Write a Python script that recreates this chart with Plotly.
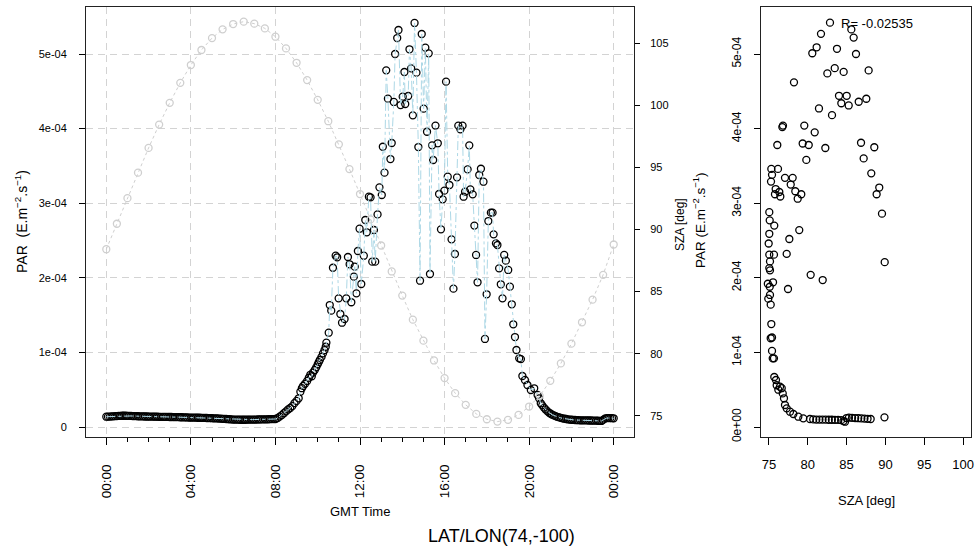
import plotly.graph_objects as go

# Positions below are given in window pixels; the page margin is removed
# (see post_script at the end) so figure pixels equal window pixels.
OFF = 0
W, H = 977, 550

# ---------------- data ----------------
# PAR time series (GMT hours, PAR in units of 1e-4 E.m-2.s-1)
PAR_HOURS = [
    0.00, 0.08, 0.17, 0.25, 0.33, 0.42, 0.50, 0.58, 0.67, 0.75, 0.83, 0.92,
    1.00, 1.08, 1.17, 1.25, 1.33, 1.42, 1.50, 1.58, 1.67, 1.75, 1.83, 1.92,
    2.00, 2.08, 2.17, 2.25, 2.33, 2.42, 2.50, 2.58, 2.67, 2.75, 2.83, 2.92,
    3.00, 3.08, 3.17, 3.25, 3.33, 3.42, 3.50, 3.58, 3.67, 3.75, 3.83, 3.92,
    4.00, 4.08, 4.17, 4.25, 4.33, 4.42, 4.50, 4.58, 4.67, 4.75, 4.83, 4.92,
    5.00, 5.08, 5.17, 5.25, 5.33, 5.42, 5.50, 5.58, 5.67, 5.75, 5.83, 5.92,
    6.00, 6.08, 6.17, 6.25, 6.33, 6.42, 6.50, 6.58, 6.67, 6.75, 6.83, 6.92,
    7.00, 7.08, 7.17, 7.25, 7.33, 7.42, 7.50, 7.58, 7.67, 7.75, 7.83, 7.92,
    8.00, 8.10, 8.20, 8.30, 8.40, 8.50, 8.60, 8.70, 8.80, 8.90, 9.00, 9.10,
    9.18, 9.25, 9.31, 9.40, 9.50, 9.58, 9.65, 9.72, 9.78, 9.86, 9.93, 10.00,
    10.05, 10.10, 10.18, 10.25, 10.32, 10.38, 10.41, 10.52, 10.57, 10.64, 10.72, 10.85,
    10.92, 10.99, 11.07, 11.15, 11.27, 11.35, 11.43, 11.51, 11.59, 11.71, 11.75, 11.83,
    11.90, 11.98, 12.06, 12.18, 12.25, 12.32, 12.42, 12.50, 12.58, 12.66, 12.72, 12.83,
    12.92, 13.03, 13.08, 13.16, 13.24, 13.32, 13.44, 13.50, 13.60, 13.66, 13.76, 13.82,
    13.92, 14.02, 14.10, 14.14, 14.28, 14.34, 14.42, 14.50, 14.58, 14.67, 14.76, 14.84,
    14.92, 15.01, 15.09, 15.17, 15.25, 15.31, 15.41, 15.46, 15.57, 15.68, 15.74, 15.83,
    15.91, 15.99, 16.07, 16.15, 16.23, 16.33, 16.42, 16.49, 16.59, 16.65, 16.75, 16.85,
    16.90, 16.97, 17.09, 17.17, 17.22, 17.33, 17.41, 17.49, 17.56, 17.64, 17.72, 17.84,
    17.91, 17.99, 18.07, 18.19, 18.27, 18.32, 18.43, 18.50, 18.58, 18.66, 18.74, 18.82,
    18.90, 19.01, 19.09, 19.18, 19.25, 19.33, 19.40, 19.53, 19.61, 19.68, 19.80, 19.92,
    20.08, 20.24, 20.40, 20.47, 20.55, 20.62, 20.70, 20.78, 20.87, 20.95, 21.02, 21.08,
    21.17, 21.25, 21.33, 21.42, 21.50, 21.58, 21.67, 21.75, 21.83, 21.92, 22.00, 22.08,
    22.17, 22.25, 22.33, 22.42, 22.50, 22.58, 22.67, 22.75, 22.83, 22.92, 23.00, 23.08,
    23.17, 23.25, 23.33, 23.42, 23.50, 23.58, 23.67, 23.75, 23.83, 23.92, 24.00,
]
PAR_E4 = [
    0.138, 0.139, 0.140, 0.142, 0.143, 0.145, 0.147, 0.149, 0.150, 0.151, 0.151, 0.151,
    0.150, 0.149, 0.148, 0.147, 0.146, 0.145, 0.144, 0.143, 0.142, 0.142, 0.141, 0.141,
    0.140, 0.140, 0.139, 0.139, 0.138, 0.138, 0.137, 0.137, 0.136, 0.136, 0.135, 0.135,
    0.134, 0.134, 0.133, 0.133, 0.132, 0.132, 0.131, 0.131, 0.130, 0.129, 0.128, 0.127,
    0.126, 0.126, 0.125, 0.125, 0.124, 0.124, 0.123, 0.123, 0.122, 0.121, 0.120, 0.119,
    0.118, 0.117, 0.116, 0.115, 0.113, 0.112, 0.110, 0.109, 0.107, 0.106, 0.104, 0.102,
    0.100, 0.099, 0.098, 0.098, 0.097, 0.097, 0.097, 0.097, 0.098, 0.098, 0.099, 0.099,
    0.100, 0.100, 0.101, 0.101, 0.102, 0.102, 0.103, 0.103, 0.104, 0.105, 0.106, 0.106,
    0.107, 0.120, 0.140, 0.160, 0.185, 0.210, 0.235, 0.255, 0.280, 0.320, 0.350, 0.385,
    0.473, 0.520, 0.550, 0.580, 0.617, 0.660, 0.700, 0.680, 0.730, 0.764, 0.800, 0.840,
    0.870, 0.898, 0.940, 0.987, 1.030, 1.076, 1.130, 1.264, 1.635, 1.560, 2.135, 2.296,
    2.275, 1.725, 1.515, 1.398, 1.448, 1.725, 2.279, 2.181, 1.672, 2.015, 2.149, 1.792,
    2.359, 2.658, 1.917, 2.296, 2.775, 2.610, 3.087, 3.079, 2.216, 2.641, 2.216, 2.850,
    3.213, 3.110, 3.757, 3.409, 4.781, 4.401, 3.592, 3.807, 4.357, 5.000, 5.214, 5.322,
    4.316, 4.428, 4.759, 4.330, 4.437, 5.063, 4.808, 4.178, 5.416, 4.750, 3.753, 1.961,
    5.268, 4.267, 5.085, 3.958, 5.009, 2.051, 3.776, 3.579, 4.040, 3.803, 3.123, 2.650,
    3.052, 3.168, 4.629, 3.355, 3.244, 2.516, 1.854, 2.319, 3.347, 4.039, 3.990, 4.039,
    3.087, 3.154, 3.454, 3.776, 3.186, 3.119, 2.700, 2.306, 1.940, 3.378, 3.462, 3.288,
    1.180, 1.779, 2.761, 2.873, 2.873, 2.583, 2.462, 2.440, 2.127, 1.913, 1.725, 2.306,
    2.230, 2.105, 1.881, 1.645, 1.377, 1.206, 1.032, 0.920, 0.910, 0.684, 0.630, 0.563,
    0.496, 0.519, 0.429, 0.385, 0.318, 0.290, 0.260, 0.235, 0.210, 0.190, 0.178, 0.165,
    0.155, 0.145, 0.137, 0.130, 0.122, 0.116, 0.111, 0.107, 0.103, 0.100, 0.097, 0.096,
    0.094, 0.093, 0.091, 0.090, 0.089, 0.089, 0.088, 0.088, 0.087, 0.087, 0.086, 0.086,
    0.085, 0.084, 0.083, 0.081, 0.095, 0.112, 0.120, 0.120, 0.119, 0.118, 0.117,
]

# Solar zenith angle, half-hourly (deg)
SZA_HOURS = [
    0.0, 0.5, 1.0, 1.5, 2.0, 2.5, 3.0, 3.5, 4.0, 4.5, 5.0, 5.5, 6.0, 6.5, 7.0, 7.5,
    8.0, 8.5, 9.0, 9.5, 10.0, 10.5, 11.0, 11.5, 12.0, 12.5, 13.0, 13.5, 14.0, 14.5,
    15.0, 15.5, 16.0, 16.5, 17.0, 17.5, 18.0, 18.5, 19.0, 19.5, 20.0, 20.5, 21.0,
    21.5, 22.0, 22.5, 23.0, 23.5, 24.0,
]
SZA_DEG = [
    88.41, 90.46, 92.52, 94.57, 96.56, 98.44, 100.19, 101.80, 103.23, 104.44, 105.40,
    106.10, 106.53, 106.72, 106.56, 106.18, 105.51, 104.57, 103.41, 102.02, 100.43,
    98.71, 96.85, 94.86, 92.85, 90.81, 88.71, 86.62, 84.68, 82.74, 81.05, 79.46,
    78.04, 76.83, 75.89, 75.16, 74.73, 74.54, 74.68, 75.08, 75.75, 76.61, 77.82,
    79.22, 80.81, 82.53, 84.35, 86.35, 88.79,
]

# Scatter: PAR vs SZA (SZA < 90 deg)
SC_SZA = [
    82.86, 81.70, 85.61, 85.91, 81.14, 80.58, 83.76, 86.21, 82.52, 83.47, 84.62, 87.84,
    78.22, 84.02, 85.01, 84.32, 85.27, 86.56, 87.54, 81.44, 83.12, 76.80, 76.72, 79.55,
    80.89, 76.07, 79.34, 80.12, 82.26, 86.86, 88.57, 79.81, 87.20, 88.18, 75.30, 76.16,
    75.39, 75.26, 77.06, 78.05, 77.80, 78.39, 78.70, 79.16, 75.86, 75.77, 76.33, 76.46,
    89.21, 88.87, 89.56, 75.04, 75.09, 75.68, 78.90, 77.62, 75.04, 74.96, 75.04, 75.64,
    75.13, 77.28, 89.91, 75.04, 75.13, 80.37, 81.92, 77.45, 74.85, 75.52, 75.10, 75.13,
    74.91, 75.22, 75.30, 75.22, 75.39, 75.39, 75.48, 75.64, 75.68, 75.90, 75.99, 76.42,
    76.20, 76.64, 76.77, 76.93, 77.06, 77.28, 77.71, 78.14, 78.78, 79.42, 80.28, 80.70,
    81.10, 81.50, 81.90, 82.30, 82.70, 83.10, 83.50, 83.90, 84.30, 84.60, 84.80, 85.00,
    85.30, 85.70, 86.10, 86.50, 86.90, 87.30, 87.70, 88.10, 89.88,
]
SC_PAR_E4 = [
    5.42, 5.27, 5.33, 5.22, 5.09, 5.01, 5.07, 5.00, 4.74, 4.81, 4.76, 4.78,
    4.62, 4.44, 4.44, 4.34, 4.31, 4.36, 4.40, 4.27, 4.18, 4.04, 4.02, 4.04,
    3.95, 3.78, 3.80, 3.78, 3.74, 3.81, 3.75, 3.58, 3.60, 3.40, 3.46, 3.46,
    3.38, 3.29, 3.34, 3.34, 3.25, 3.16, 3.06, 3.12, 3.19, 3.12, 3.15, 3.09,
    3.21, 3.12, 2.86, 2.88, 2.77, 2.70, 2.64, 2.52, 2.59, 2.46, 2.31, 2.31,
    2.22, 2.32, 2.21, 2.13, 2.10, 2.04, 1.97, 1.85, 1.92, 1.94, 1.88, 1.77,
    1.72, 1.64, 1.38, 1.19, 1.20, 1.02, 0.92, 0.92, 0.67, 0.63, 0.56, 0.54,
    0.50, 0.52, 0.45, 0.385, 0.295, 0.25, 0.205, 0.174, 0.138, 0.116, 0.107, 0.102,
    0.100, 0.099, 0.098, 0.098, 0.097, 0.097, 0.096, 0.095, 0.092, 0.080, 0.071, 0.120,
    0.125, 0.123, 0.120, 0.118, 0.115, 0.113, 0.110, 0.107, 0.130,
]

R_TEXT = "R= -0.02535"
TIME_TICKS = [0, 4, 8, 12, 16, 20, 24]
TIME_LABELS = ["00:00", "04:00", "08:00", "12:00", "16:00", "20:00", "00:00"]
PAR_TICKS_E4 = [0, 1, 2, 3, 4, 5]
PAR_LABELS_L = ["0", "1e-04", "2e-04", "3e-04", "4e-04", "5e-04"]
PAR_LABELS_R = ["0e+00", "1e-04", "2e-04", "3e-04", "4e-04", "5e-04"]
SZA_TICKS = [75, 80, 85, 90, 95, 100, 105]
SZA_X_TICKS = [75, 80, 85, 90, 95, 100]

E4 = 1e-4
par = [v * E4 for v in PAR_E4]
sc_par = [v * E4 for v in SC_PAR_E4]
par_ticks = [v * E4 for v in PAR_TICKS_E4]

# ---------------- layout helpers ----------------
def px_x(p):
    return min(1.0, max(0.0, (p - OFF) / W))

def px_y(p):
    return min(1.0, max(0.0, 1 - (p - OFF) / H))

FONT = "Liberation Sans, Arial, sans-serif"
LX0, LX1 = 86, 634
RX0, RX1 = 761, 971
PY0, PY1 = 7, 437
YRANGE = [-1.34e-5, 5.63e-4]

fig = go.Figure()

# PAR points, with the dash-dot line drawn over them (as in the original)
fig.add_trace(go.Scatter(
    x=PAR_HOURS, y=par, xaxis="x", yaxis="y", mode="markers",
    marker=dict(symbol="circle-open", size=7, color="black", line=dict(width=1.3)),
    hoverinfo="skip",
))
fig.add_trace(go.Scatter(
    x=PAR_HOURS, y=par, xaxis="x", yaxis="y", mode="lines",
    line=dict(color="#add8e6", dash="dashdot", width=1),
    hoverinfo="skip",
))
fig.add_trace(go.Scatter(
    x=SZA_HOURS, y=SZA_DEG, xaxis="x", yaxis="y2", mode="lines+markers",
    line=dict(color="#cfcfcf", dash="dot", width=1),
    marker=dict(symbol="circle-open", size=7, color="#cfcfcf", line=dict(width=1.3)),
    hoverinfo="skip",
))
fig.add_trace(go.Scatter(
    x=SC_SZA, y=sc_par, xaxis="x3", yaxis="y3", mode="markers",
    marker=dict(symbol="circle-open", size=7, color="black", line=dict(width=1.3)),
    hoverinfo="skip",
))

grid = dict(showgrid=True, gridcolor="#d3d3d3", griddash="7px,5px", gridwidth=1)
frame = dict(showline=True, linecolor="#222", linewidth=1, mirror=True, zeroline=False)

fig.update_layout(
    width=W, height=H,
    margin=dict(l=0, r=0, t=0, b=0, pad=0),
    paper_bgcolor="white", plot_bgcolor="white",
    showlegend=False,
    font=dict(family=FONT, color="black", size=11),
    xaxis=dict(
        domain=[px_x(LX0), px_x(LX1)], anchor="y", range=[-0.96, 24.96],
        tickmode="array", tickvals=TIME_TICKS, ticktext=TIME_LABELS, tickangle=-90,
        ticks="outside", ticklen=7, tickcolor="black", tickfont=dict(size=13.5),
        ticklabelstandoff=14, automargin=False,
        minor=dict(tickvals=list(range(0, 25)), ticks="outside", ticklen=4,
                   tickcolor="black", showgrid=False),
        **grid, **frame,
    ),
    yaxis=dict(
        domain=[px_y(PY1), px_y(PY0)], anchor="x", range=YRANGE,
        tickmode="array", tickvals=par_ticks, ticktext=PAR_LABELS_L,
        ticks="outside", ticklen=6, tickcolor="black", tickfont=dict(size=11),
        ticklabelstandoff=10, automargin=False,
        **grid, **frame,
    ),
    yaxis2=dict(
        overlaying="y", side="right", anchor="x", range=[73.3, 107.9],
        tickmode="array", tickvals=SZA_TICKS,
        ticks="outside", ticklen=5, tickcolor="black", tickfont=dict(size=11),
        ticklabelstandoff=8, showgrid=False, zeroline=False, showline=False,
        automargin=False,
    ),
    xaxis3=dict(
        domain=[px_x(RX0), px_x(RX1)], anchor="y3", range=[73.97, 101.03],
        tickmode="array", tickvals=SZA_X_TICKS,
        ticks="outside", ticklen=7, tickcolor="black", tickfont=dict(size=13),
        ticklabelstandoff=8, showgrid=False, automargin=False, **frame,
    ),
    yaxis3=dict(
        domain=[px_y(PY1), px_y(PY0)], anchor="x3", range=YRANGE,
        tickmode="array", tickvals=par_ticks, ticktext=PAR_LABELS_R, tickangle=-90,
        ticks="outside", ticklen=6, tickcolor="black", tickfont=dict(size=12),
        ticklabelstandoff=8, showgrid=False, automargin=False, **frame,
    ),
)

ann = [
    dict(text="PAR&nbsp;&nbsp;(E.m<sup>\u22122</sup>.s<sup>\u22121</sup>)",
         x=px_x(21), y=px_y(222), textangle=-90, font=dict(size=14)),
    dict(text="GMT Time", x=px_x(360), y=px_y(511), font=dict(size=13)),
    dict(text="LAT/LON(74,-100)", x=px_x(501), y=px_y(536), font=dict(size=18)),
    dict(text="SZA [deg]", x=px_x(680), y=px_y(225), textangle=-90, font=dict(size=12)),
    dict(text="PAR (E.m<sup>\u22122</sup>.s<sup>\u22121</sup>)", x=px_x(699), y=px_y(220),
         textangle=-90, font=dict(size=13.5)),
    dict(text="SZA [deg]", x=px_x(866), y=px_y(500), font=dict(size=13)),
    dict(text=R_TEXT, x=px_x(839), y=px_y(23), xanchor="left", font=dict(size=13)),
]
for a in ann:
    a.setdefault("xanchor", "center")
    a.update(xref="paper", yref="paper", yanchor="middle", showarrow=False)
    fig.add_annotation(**a)

# remove the default page margin so the figure fills the window exactly;
# hide the modebar so it never covers the chart
fig.write_html(
    "out.html",
    config={"displayModeBar": False},
    post_script="document.body.style.margin='0';"
                "document.documentElement.style.overflow='hidden';",
)
